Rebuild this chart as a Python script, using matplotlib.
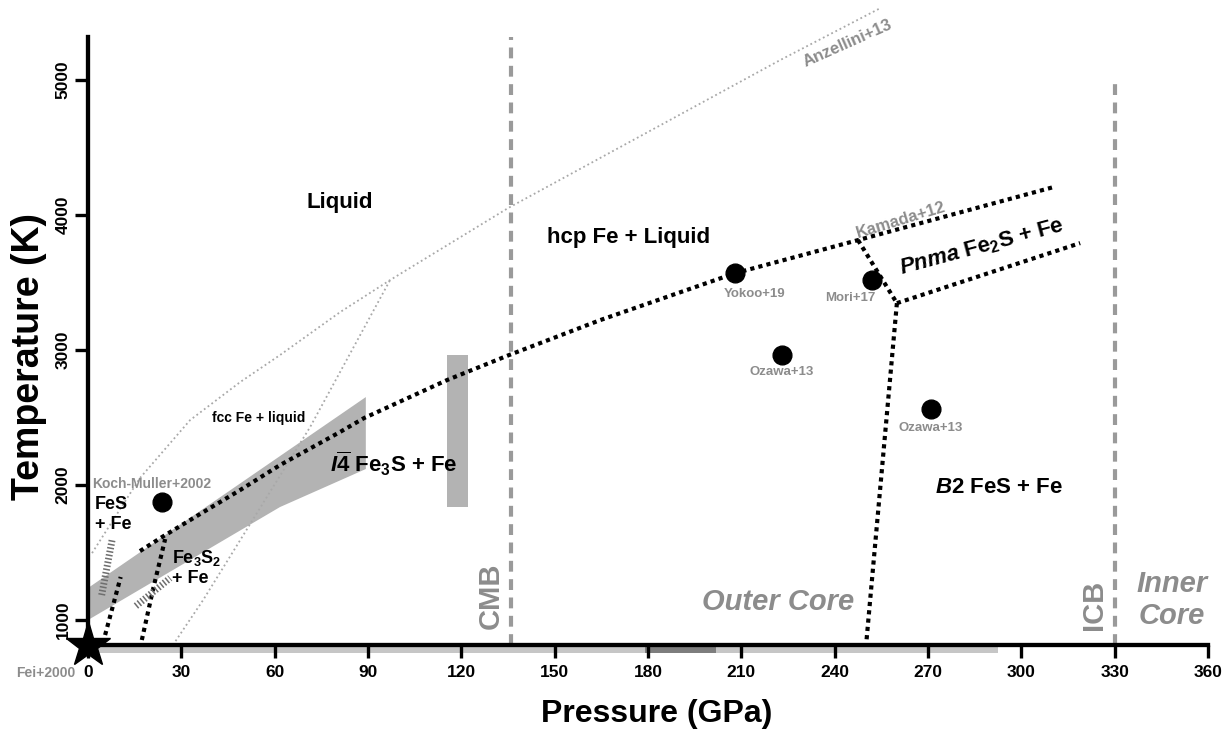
import matplotlib
matplotlib.use("Agg")
import matplotlib.pyplot as plt

plt.rcParams["font.family"] = ["Liberation Sans", "DejaVu Sans"]
plt.rcParams["font.weight"] = "bold"
plt.rcParams["mathtext.fontset"] = "custom"
plt.rcParams["mathtext.rm"] = "Liberation Sans:bold"
plt.rcParams["mathtext.bf"] = "Liberation Sans:bold"
plt.rcParams["mathtext.it"] = "Liberation Sans:bold:italic"

GRAY_TXT = "#8c8c8c"
GRAY_FILL = "#b3b3b3"
GRAY_LINE = "#a8a8a8"

# ---- phase boundaries (pressure GPa, temperature K) ----
main_p = [16.7, 23.8, 36.0, 48.9, 61.7, 81.0, 88.7, 115.4, 135.3, 164.6, 208.0, 247.5, 310.2]
main_t = [1511, 1615, 1785, 1963, 2148, 2393, 2496, 2778, 2963, 3222, 3570, 3815, 4207]

kamada_p = [247.5, 260.0]
kamada_t = [3815, 3348]

pnma_low_p = [260.0, 318.9]
pnma_low_t = [3348, 3793]

b2_p = [260.0, 250.1]
b2_t = [3348, 815]

left1_p = [5.5, 10.5]
left1_t = [889, 1319]
left2_p = [17.3, 21.0, 24.8]
left2_t = [852, 1237, 1600]

hatch1_p = [4.4, 7.8]
hatch1_t = [1185, 1600]
hatch2_p = [15.4, 26.4]
hatch2_t = [1104, 1311]

# Fe melting (Anzellini+13) and fcc/hcp boundary
melt_p = [1.3, 16.7, 32.8, 48.9, 61.7, 81.0, 97.1, 135.0, 222.4, 254.6]
melt_t = [1496, 2052, 2481, 2763, 2963, 3281, 3519, 4052, 5148, 5533]
fcc_hcp_p = [27.3, 37.0, 71.4, 97.1]
fcc_hcp_t = [815, 1148, 2430, 3519]

# I-4 Fe3S stability band and experimental bar
band_p = [0, 89.3, 89.3, 61.7, 0]
band_t = [1237, 2652, 2119, 1837, 1000]
bar_p = [115.4, 122.1]
bar_t = [1837, 2963]

# experimental points
pts_p = [23.8, 208.0, 252.0, 223.1, 271.0]
pts_t = [1874, 3570, 3519, 2963, 2563]

CMB_P = 136
ICB_P = 330

# pressure ranges marked under the axis
range_light = [0, 292.5]
range_dark = [179, 201.9]

xticks = list(range(0, 361, 30))
yticks = [1000, 2000, 3000, 4000, 5000]

fig = plt.figure(figsize=(12.27, 7.30), dpi=100)
ax = fig.add_axes([0.07172, 0.11644, 0.9128, 0.83288])
ax.set_xlim(0, 360)
ax.set_ylim(815, 5320)

ax.fill(band_p, band_t, color=GRAY_FILL, lw=0, zorder=1)
ax.fill_between(bar_p, bar_t[0], bar_t[1], color=GRAY_FILL, lw=0, zorder=1)

thin = dict(color=GRAY_LINE, lw=1.3, linestyle=(0, (1, 1.6)), zorder=1.2)
ax.plot(melt_p, melt_t, clip_on=False, **thin)
ax.plot(fcc_hcp_p, fcc_hcp_t, **thin)

for p in (CMB_P, ICB_P):
    top = ax.get_ylim()[1] if p == CMB_P else 5000
    ax.plot([p, p], [815, top], color="#9a9a9a", lw=3,
            linestyle=(0, (2.6, 1.8)), zorder=1.3)

dots = dict(color="black", lw=3, linestyle=(0, (1, 1)), zorder=3)
for xs, ys in [(main_p, main_t), (kamada_p, kamada_t), (pnma_low_p, pnma_low_t),
               (b2_p, b2_t), (left1_p, left1_t), (left2_p, left2_t)]:
    ax.plot(xs, ys, **dots)

for xs, ys in [(hatch1_p, hatch1_t), (hatch2_p, hatch2_t)]:
    ax.plot(xs, ys, color="#6e6e6e", lw=5, linestyle=(0, (0.22, 0.3)), zorder=3)

ax.plot(pts_p, pts_t, "o", color="black", ms=13.5, zorder=4)
ax.plot([0], [815], "*", color="black", ms=34, clip_on=False, zorder=6)

ax.plot(range_light, [776, 776], color="#c6c6c6", lw=4.3,
        solid_capstyle="butt", clip_on=False, zorder=1)
ax.plot(range_dark, [776, 776], color="#7d7d7d", lw=4.3,
        solid_capstyle="butt", clip_on=False, zorder=1.1)

# region labels
big = dict(fontsize=16, ha="center", va="center", color="black")
ax.text(81, 4096, "Liquid", **big)
ax.text(173.6, 3837, "hcp Fe + Liquid", **big)
ax.text(287.4, 3763, r"$\mathit{Pnma}$ Fe$_2$S + Fe", rotation=15,
        rotation_mode="anchor", **big)
ax.text(98.4, 2096, r"$\mathit{I\overline{4}}$ Fe$_3$S + Fe", fontsize=16,
        ha="center", va="baseline")
ax.text(292.8, 1985, r"$\mathit{B2}$ FeS + Fe", **big)
ax.text(55.0, 2496, "fcc Fe + liquid", fontsize=10, ha="center", va="center")
ax.text(2.25, 1781, "FeS\n+ Fe", fontsize=13, ha="left", va="center")
ax.text(27.0, 1389, "Fe$_3$S$_2$\n+ Fe", fontsize=13, ha="left", va="center")

# references
ref = dict(color=GRAY_TXT, ha="center", va="center")
ax.text(1.3, 2007, "Koch-Muller+2002", fontsize=10, color=GRAY_TXT,
        ha="left", va="center")
ax.text(-4.2, 607, "Fei+2000", fontsize=10, color=GRAY_TXT, ha="right", va="center")
ax.text(214.4, 3415, "Yokoo+19", fontsize=9.5, **ref)
ax.text(244.9, 3385, "Mori+17", fontsize=9.5, **ref)
ax.text(223.1, 2837, "Ozawa+13", fontsize=9.5, **ref)
ax.text(271.0, 2422, "Ozawa+13", fontsize=9.5, **ref)
ax.text(261.3, 3963, "Kamada+12", fontsize=12, rotation=17,
        rotation_mode="anchor", **ref)
ax.text(244.3, 5274, "Anzellini+13", fontsize=12, rotation=24,
        rotation_mode="anchor", **ref)

# Earth structure labels
ax.text(129.4, 1178, "CMB", fontsize=21, rotation=90, **ref)
ax.text(323.4, 1111, "ICB", fontsize=21, rotation=90, **ref)
ax.text(221.8, 1133, "Outer Core", fontsize=21, style="italic", **ref)
ax.text(348.4, 1148, "Inner\nCore", fontsize=21, style="italic", **ref)

for side in ("top", "right"):
    ax.spines[side].set_visible(False)
for side in ("left", "bottom"):
    ax.spines[side].set_linewidth(3.1)

ax.set_xticks(xticks)
ax.set_yticks(yticks)
ax.tick_params(axis="both", direction="out", length=9.5, width=2.4,
               labelsize=12.5)
ax.tick_params(axis="x", pad=5)
ax.tick_params(axis="y", pad=3)
for lbl in ax.get_yticklabels():
    lbl.set_rotation(90)
    lbl.set_va("center")

ax.set_xlabel("Pressure (GPa)", fontsize=23, fontweight="bold")
ax.xaxis.set_label_coords(0.508, -0.088)
ax.set_ylabel("Temperature (K)", fontsize=27, fontweight="bold")
ax.yaxis.set_label_coords(-0.037, 0.475)

fig.savefig("out.png", dpi=100)
